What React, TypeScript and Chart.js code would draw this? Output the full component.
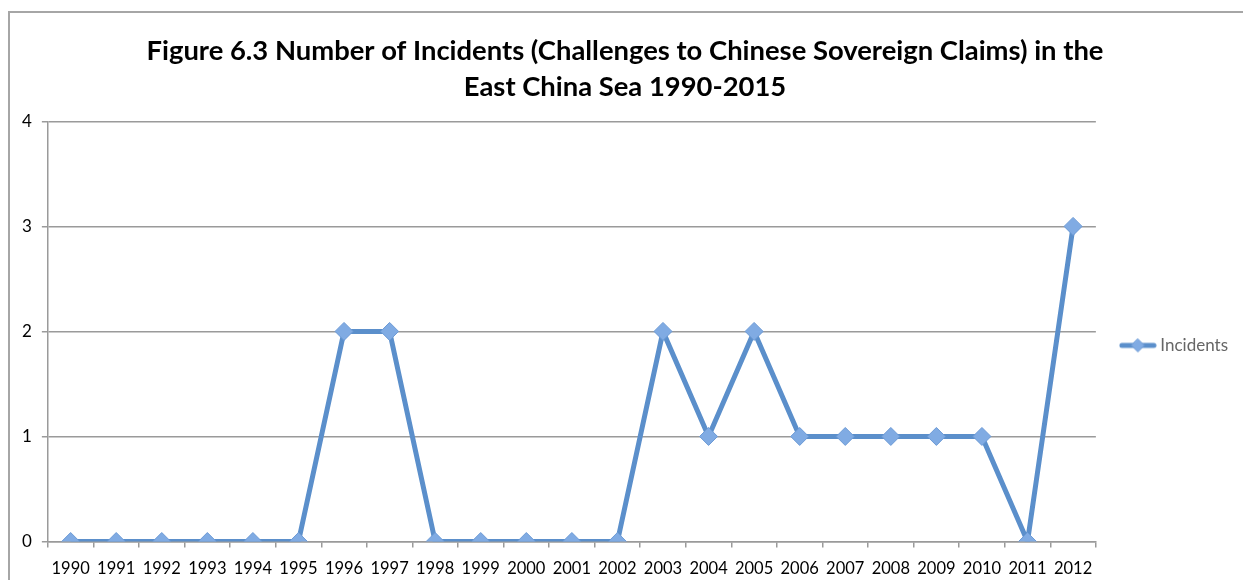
import React, { useEffect, useRef } from "react";
import { Chart, registerables } from "chart.js";

Chart.register(...registerables);

const years = ["1990","1991","1992","1993","1994","1995","1996","1997","1998","1999","2000","2001","2002","2003","2004","2005","2006","2007","2008","2009","2010","2011","2012"];
const incidents = [0,0,0,0,0,0,2,2,0,0,0,0,0,2,1,2,1,1,1,1,1,0,3];
const titleLines = ["Figure 6.3 Number of Incidents (Challenges to Chinese Sovereign Claims) in the", "East China Sea 1990-2015"];
const seriesName = "Incidents";

const LINE = "#5B8FCB";
const MARK = "#80ABE3";
const FONT = "Lato, 'Open Sans', sans-serif";

function legendIcon(): HTMLCanvasElement {
  const c = document.createElement("canvas");
  c.width = 38; c.height = 16;
  const ctx = c.getContext("2d")!;
  ctx.strokeStyle = LINE; ctx.lineWidth = 5; ctx.lineCap = "round";
  ctx.beginPath(); ctx.moveTo(3, 8); ctx.lineTo(35, 8); ctx.stroke();
  ctx.fillStyle = MARK; ctx.strokeStyle = "#6d9bd6"; ctx.lineWidth = 1;
  ctx.beginPath(); ctx.moveTo(19, 1.5); ctx.lineTo(25.5, 8); ctx.lineTo(19, 14.5); ctx.lineTo(12.5, 8); ctx.closePath(); ctx.fill(); ctx.stroke();
  return c;
}

const framePlugin = {
  id: "frame",
  beforeDraw(chart: any) {
    const ctx = chart.ctx;
    ctx.save();
    ctx.fillStyle = "#fff";
    ctx.fillRect(0, 0, chart.width, chart.height);
    ctx.strokeStyle = "#a6a6a6";
    ctx.lineWidth = 2;
    ctx.strokeRect(9, 12, chart.width + 20, chart.height + 20);
    ctx.restore();
  },
};

export default function App() {
  const ref = useRef<HTMLCanvasElement>(null);
  useEffect(() => {
    document.body.style.margin = "0";
    const icon = legendIcon();
    const chart = new Chart(ref.current!, {
      type: "line",
      data: {
        labels: years,
        datasets: [{
          label: seriesName,
          data: incidents,
          borderColor: LINE,
          borderWidth: 5,
          backgroundColor: MARK,
          pointStyle: "rectRot",
          pointRadius: 9,
          pointHoverRadius: 9,
          pointBackgroundColor: MARK,
          pointBorderColor: "#6d9bd6",
          pointBorderWidth: 1,
          tension: 0,
        }],
      },
      options: {
        responsive: false,
        animation: false,
        layout: { padding: { left: 12, right: 5, top: 10, bottom: -10 } },
        plugins: {
          title: {
            display: true,
            text: titleLines,
            color: "#000",
            font: { family: FONT, size: 27.4, weight: "bold", lineHeight: 1.32 },
            padding: { top: 23, bottom: 16 },
          },
          legend: {
            position: "right",
            fullSize: false,
            title: { display: true, text: "", padding: 8, font: { size: 10, lineHeight: 1.2 } },
            labels: {
              usePointStyle: true,
              pointStyleWidth: 28,
              color: "#000",
              font: { family: FONT, size: 17 },
              padding: 28,
              generateLabels: () => [{ text: seriesName, pointStyle: icon, fillStyle: MARK, strokeStyle: LINE, lineWidth: 0, hidden: false, datasetIndex: 0 } as any],
            },
          },
          tooltip: { enabled: false },
        },
        scales: {
          x: {
            offset: true,
            grid: { display: true, drawOnChartArea: false, offset: true, tickLength: 6, color: "#9a9a9a", lineWidth: 1.5 },
            border: { color: "#9a9a9a", width: 1.5 },
            ticks: { color: "#000", font: { family: FONT, size: 16.5, lineHeight: 1.0 }, maxRotation: 0, autoSkip: false, padding: 13 },
          },
          y: {
            min: 0, max: 4,
            grid: { color: "#9a9a9a", lineWidth: 1.5, tickLength: 6 },
            border: { color: "#9a9a9a", width: 1.5 },
            ticks: { stepSize: 1, color: "#000", font: { family: FONT, size: 17 }, padding: 10 },
          },
        },
      },
      plugins: [framePlugin],
    });
    return () => chart.destroy();
  }, []);
  return <canvas ref={ref} width={1243} height={580} style={{ display: "block" }} />;
}
